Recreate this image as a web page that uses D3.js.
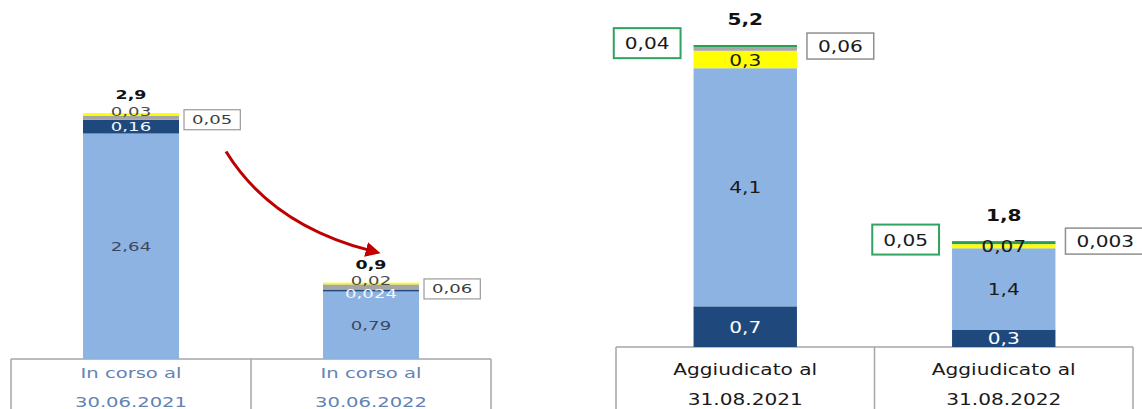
<!DOCTYPE html>
<html>
<head>
<meta charset="utf-8">
<script src="https://cdn.jsdelivr.net/npm/d3@7"></script>
<style>
  html, body { margin: 0; padding: 0; background: #fff; overflow: hidden; }
  text { font-family: "DejaVu Sans", Verdana, sans-serif; }
</style>
</head>
<body>
<svg id="chart" width="1142" height="409"></svg>
<script>
// ---- In corso (bandi in corso), miliardi di euro ----
const corsoCategories = [["In corso al", "30.06.2021"], ["In corso al", "30.06.2022"]];
const corsoLightBlue = [2.64, 0.79];
const corsoDarkBlue  = [0.16, 0.024];
const corsoGrey      = [0.05, 0.06];
const corsoYellow    = [0.03, 0.02];

// ---- Aggiudicato, miliardi di euro ----
const aggCategories = [["Aggiudicato al", "31.08.2021"], ["Aggiudicato al", "31.08.2022"]];
const aggDarkBlue  = [0.7, 0.3];
const aggLightBlue = [4.1, 1.4];
const aggYellow    = [0.3, 0.07];
const aggGrey      = [0.06, 0.003];
const aggGreen     = [0.04, 0.05];

const COLORS = {
  light: "#8db3e2", dark: "#1f497d", yellow: "#ffff00", grey: "#a6a6a6", green: "#27a054"
};

const fmt = v => String(+v.toFixed(3)).replace(".", ",");
const fmtTotal = v => d3.format(".1f")(v).replace(".", ",");

const svg = d3.select("#chart");

// Text with horizontal stretch; cy is the vertical centre of the digits
function addText(g, x, cy, str, o) {
  return g.append("text")
    .attr("transform", `translate(${x},${cy + 0.365 * o.size}) scale(${o.sx},1)`)
    .attr("text-anchor", o.anchor || "middle")
    .attr("font-size", o.size)
    .attr("font-weight", o.weight || "normal")
    .attr("fill", o.fill || "#1a1a1a")
    .text(str);
}

function drawPanel(p) {
  const g = svg.append("g");
  const rows = p.categories.map((c, i) => {
    const r = { cat: c.join(" "), lines: c };
    p.series.forEach(s => r[s.key] = s.values[i]);
    return r;
  });
  const keys = p.series.map(s => s.key);
  const stacked = d3.stack().keys(keys)(rows);

  const x = d3.scaleBand().domain(rows.map(r => r.cat)).range([p.x0, p.x1]).paddingInner(0).paddingOuter(0);
  const y = d3.scaleLinear().domain(p.yDomain).range([p.base, p.yTopPx]);
  const bw = x.bandwidth() * p.barFrac;
  const barX = cat => x(cat) + (x.bandwidth() - bw) / 2;

  // category frame
  const frame = g.append("g").attr("stroke", "#a6a6a6").attr("stroke-width", 1.5).attr("fill", "none");
  frame.append("line").attr("x1", p.x0).attr("x2", p.x1).attr("y1", p.base).attr("y2", p.base);
  const edges = rows.map(r => x(r.cat)).concat([p.x1]);
  edges.forEach(ex => frame.append("line").attr("x1", ex).attr("x2", ex).attr("y1", p.base).attr("y2", 420));

  // category labels
  rows.forEach(r => {
    const cx = x(r.cat) + x.bandwidth() / 2;
    r.lines.forEach((ln, li) => {
      g.append("text")
        .attr("transform", `translate(${cx},${p.base + p.catLines[li]}) scale(${p.catSx},1)`)
        .attr("text-anchor", "middle")
        .attr("font-size", p.catSize)
        .attr("fill", p.catFill)
        .text(ln);
    });
  });

  // stacked bars
  g.selectAll("g.layer").data(stacked).join("g")
    .attr("class", "layer")
    .attr("fill", d => COLORS[d.key])
    .selectAll("rect").data(d => d).join("rect")
    .attr("x", d => barX(d.data.cat))
    .attr("width", bw)
    .attr("y", d => y(d[1]))
    .attr("height", d => y(d[0]) - y(d[1]));

  // segment labels
  stacked.forEach(layer => {
    const s = p.series.find(q => q.key === layer.key);
    layer.forEach(d => {
      const v = d.data[layer.key];
      const bx = barX(d.data.cat);
      const cx = bx + bw / 2;
      const yTop = y(d[1]), yBot = y(d[0]);
      const mid = (yTop + yBot) / 2;
      const lab = fmt(v);
      if (s.label === "mid") {
        const cy = s.minBelowTop != null ? Math.max(mid, yTop + s.minBelowTop) : mid;
        addText(g, cx, cy, lab, { size: p.valSize, sx: p.valSx, fill: s.fill });
      } else if (s.label === "top") {
        addText(g, cx, yTop + s.dy, lab, { size: p.valSize, sx: p.valSx, fill: s.fill });
      } else if (s.label === "boxRight" || s.label === "boxLeft") {
        const cy = mid + s.dy;
        const t = addText(g, 0, cy, lab, { size: p.valSize, sx: p.valSx, fill: s.fill, anchor: "start" });
        const tw = t.node().getComputedTextLength() * p.valSx;
        const w = tw + 2 * s.pad;
        const left = s.label === "boxRight" ? bx + bw + s.gap : bx - s.gap - w;
        g.insert("rect", () => t.node())
          .attr("x", left).attr("y", cy - s.h / 2)
          .attr("width", w).attr("height", s.h)
          .attr("fill", "#fff")
          .attr("stroke", s.stroke)
          .attr("stroke-width", s.strokeWidth);
        t.attr("transform", `translate(${left + s.pad},${cy + 0.365 * p.valSize}) scale(${p.valSx},1)`);
      }
    });
  });

  // totals
  rows.forEach(r => {
    const total = d3.sum(keys, k => r[k]);
    addText(g, barX(r.cat) + bw / 2, y(total) + p.totalDy, fmtTotal(total),
      { size: p.totalSize || p.valSize, sx: p.valSx, weight: "bold", fill: "#111" });
  });

  return { x, y, bw, barX, rows, keys };
}

// left panel
const left = drawPanel({
  categories: corsoCategories,
  series: [
    { key: "light",  values: corsoLightBlue, label: "mid", fill: "#3d475c" },
    { key: "dark",   values: corsoDarkBlue,  label: "mid", fill: "#f4f6fa", minBelowTop: 4 },
    { key: "grey",   values: corsoGrey,      label: "boxRight", fill: "#3d3d3d", dy: 2, gap: 5, pad: 8, h: 20, stroke: "#9a9a9a", strokeWidth: 1.2 },
    { key: "yellow", values: corsoYellow,    label: "top", fill: "#4a4a4a", dy: -2 }
  ],
  x0: 11, x1: 491, base: 359, yDomain: [0, 3], yTopPx: 359 - 3 * 85.4, barFrac: 0.4,
  valSize: 12.5, totalSize: 12, valSx: 1.45, totalDy: -18,
  catSize: 13.5, catSx: 1.45, catFill: "#6283b4", catLines: [19, 48]
});

// right panel
drawPanel({
  categories: aggCategories,
  series: [
    { key: "dark",   values: aggDarkBlue,  label: "mid", fill: "#ffffff" },
    { key: "light",  values: aggLightBlue, label: "mid", fill: "#1a1a1a" },
    { key: "yellow", values: aggYellow,    label: "mid", fill: "#1a1a1a" },
    { key: "grey",   values: aggGrey,      label: "boxRight", fill: "#1a1a1a", dy: -3, gap: 10, pad: 11, h: 26, stroke: "#8f8f8f", strokeWidth: 1.5 },
    { key: "green",  values: aggGreen,     label: "boxLeft",  fill: "#1a1a1a", dy: -3, gap: 13, pad: 11, h: 30, stroke: "#2fa35f", strokeWidth: 2 }
  ],
  x0: 616, x1: 1133, base: 347, yDomain: [0, 6], yTopPx: 347 - 6 * 58.08, barFrac: 0.4,
  valSize: 16.5, valSx: 1.22, totalDy: -26,
  catSize: 16.5, catSx: 1.22, catFill: "#1a1a1a", catLines: [28, 58]
});

// red arrow from the 2021 bar towards the 2022 bar
(function () {
  const r0 = left.rows[0], r1 = left.rows[1];
  const startX = left.barX(r0.cat) + left.bw + 47;
  const startY = left.y(2.43);
  const tot1 = d3.sum(left.keys, k => r1[k]);
  const tipX = left.barX(r1.cat) + left.bw / 2 + 10;
  const tipY = left.y(tot1) - 30;
  const endX = tipX - 12, endY = tipY - 2.5;
  const ctrlX = startX + 45, ctrlY = startY + 73;

  svg.append("defs").append("marker")
    .attr("id", "arrowHead")
    .attr("viewBox", "0 0 10 10").attr("refX", 2).attr("refY", 5)
    .attr("markerWidth", 5).attr("markerHeight", 5)
    .attr("markerUnits", "strokeWidth")
    .attr("orient", "auto")
    .append("path").attr("d", "M0,0 L10,5 L0,10 Z").attr("fill", "#c00000");

  const path = d3.path();
  path.moveTo(startX, startY);
  path.quadraticCurveTo(ctrlX, ctrlY, endX, endY);
  svg.append("path")
    .attr("d", path.toString())
    .attr("fill", "none")
    .attr("stroke", "#c00000")
    .attr("stroke-width", 3)
    .attr("marker-end", "url(#arrowHead)");
})();
</script>
</body>
</html>
